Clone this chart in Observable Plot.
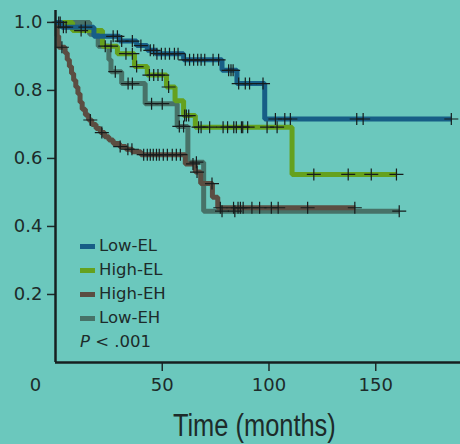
<!DOCTYPE html>
<html>
<head>
<meta charset="utf-8">
<script src="https://cdn.jsdelivr.net/npm/d3@7"></script>
<script src="https://cdn.jsdelivr.net/npm/@observablehq/plot@0.6"></script>
<style>
  html, body { margin: 0; padding: 0; background: #6BC8BD; }
  #wrap { position: relative; width: 460px; height: 444px; background: #6BC8BD; overflow: hidden; }
  #legend { position: absolute; left: 80px; top: 234px; font-family: "DejaVu Sans", sans-serif; font-size: 16.5px; color: #1d2b2a; line-height: 24px; }
  #legend .row { display: flex; align-items: center; height: 24px; }
  #legend .sw { display: inline-block; width: 15px; height: 5px; margin-right: 4px; }
  #title { position: absolute; left: 24px; width: 460px; top: 410px; text-align: center; font-family: "Liberation Sans", Arial, sans-serif; font-size: 31px; line-height: 31px; color: #1d2b2a; }
  #title span { display: inline-block; transform: scaleX(0.82); transform-origin: center; white-space: nowrap; }
</style>
</head>
<body>
<div id="wrap">
  <div id="chart"></div>
  <div id="legend"></div>
  <div id="title"><span>Time (months)</span></div>
</div>
<script>
// ---- Data ----
const groupNames = ["Low-EL", "High-EL", "High-EH", "Low-EH"];
const groupColors = ["#175E86", "#65A11E", "#5B4E42", "#477268"];

const timesLowEL = [0, 3, 18, 30, 38, 43, 47, 60, 78, 85, 98];
const survLowEL  = [1.0, 0.986, 0.959, 0.945, 0.932, 0.918, 0.908, 0.89, 0.859, 0.82, 0.716];
const endLowEL = 185.4;
const censorLowEL = [2.2, 3.7, 5, 14, 27, 29, 31, 36, 40, 44.4, 46, 47.5, 49.6, 51.4, 53.4, 55.7, 57.4, 60.8, 62.8, 64.7, 66.6, 68.2, 69.9, 73.8, 76.4, 81.1, 82.2, 83.2, 85.8, 88.9, 90.9, 97.2, 103, 107.4, 110, 141.1, 144.1, 185.4];

const timesHighEL = [0, 8, 22, 29, 37, 43, 52, 56, 60, 65.5, 110.8];
const survHighEL  = [1.0, 0.976, 0.93, 0.908, 0.87, 0.845, 0.81, 0.77, 0.726, 0.692, 0.553];
const endHighEL = 160;
const censorHighEL = [12, 26, 33, 36, 38, 44, 46, 48, 50, 53, 60.5, 61.3, 62.4, 67, 68.2, 72.2, 78.5, 80.6, 83.5, 84.7, 87.1, 87.7, 90, 99.1, 103.8, 121, 137.1, 147.9, 159.7];

const timesHighEH = [0, 0.8, 1.5, 4.5, 5.5, 6.5, 7.5, 8.5, 9.5, 10.5, 11.5, 12.5, 14, 15.5, 17, 19, 21, 23, 25, 27, 30, 33, 36, 40, 60.8, 65.5, 68, 73.5, 76];
const survHighEH  = [1.0, 0.96, 0.927, 0.91, 0.89, 0.87, 0.85, 0.83, 0.81, 0.79, 0.765, 0.745, 0.728, 0.713, 0.70, 0.688, 0.676, 0.664, 0.654, 0.644, 0.635, 0.627, 0.62, 0.611, 0.584, 0.56, 0.526, 0.486, 0.455];
const endHighEH = 140.5;
const censorHighEH = [3, 16.3, 21.7, 30.3, 33.9, 35.8, 41.3, 43, 44.4, 45.8, 47.3, 48.6, 50.5, 52.4, 54.7, 56.6, 58.5, 64.4, 66.3, 73.3, 77.2, 83.4, 85.5, 86.6, 87.9, 92, 95.6, 101.1, 104.3, 118.1, 140.2];

const timesLowEH = [0, 16, 20, 25, 26, 31, 42, 57, 62, 69.4];
const survLowEH  = [1.0, 0.965, 0.93, 0.89, 0.855, 0.82, 0.761, 0.694, 0.589, 0.445];
const endLowEH = 161;
const censorLowEH = [1.5, 23.3, 28, 34, 36, 45, 50, 58, 60, 66, 78, 84, 161];

const yTicks = [0.2, 0.4, 0.6, 0.8, 1.0];
const xTicks = [50, 100, 150];
const xMax = 189.7, yMax = 1.035;

// ---- Build tables ----
const series = [
  {name: groupNames[0], times: timesLowEL, surv: survLowEL, end: endLowEL, censor: censorLowEL},
  {name: groupNames[1], times: timesHighEL, surv: survHighEL, end: endHighEL, censor: censorHighEL},
  {name: groupNames[2], times: timesHighEH, surv: survHighEH, end: endHighEH, censor: censorHighEH},
  {name: groupNames[3], times: timesLowEH, surv: survLowEH, end: endLowEH, censor: censorLowEH}
];
function stepAt(s, t) {
  let v = s.surv[0];
  for (let i = 0; i < s.times.length; i++) if (s.times[i] <= t) v = s.surv[i];
  return v;
}
const drawOrder = [3, 2, 1, 0];
const lineData = [], censorData = [];
for (const i of drawOrder) {
  const s = series[i];
  s.times.forEach((t, j) => lineData.push({group: s.name, t, s: s.surv[j]}));
  lineData.push({group: s.name, t: s.end, s: s.surv[s.surv.length - 1]});
}
for (const i of drawOrder) {
  const s = series[i];
  s.censor.forEach(t => censorData.push({group: s.name, t, s: stepAt(s, t)}));
}

const censorSymbol = {
  draw(ctx) {
    ctx.moveTo(-7, 0); ctx.lineTo(7, 0);
    ctx.moveTo(0, -6); ctx.lineTo(0, 6);
  }
};

const chart = Plot.plot({
  width: 460,
  height: 444,
  marginLeft: 55,
  marginRight: 0,
  marginTop: 10,
  marginBottom: 82,
  style: {background: "transparent", color: "#1d2b2a", fontFamily: "DejaVu Sans, sans-serif"},
  x: {domain: [0, xMax]},
  y: {domain: [0, yMax]},
  color: {domain: groupNames, range: groupColors},
  marks: [
    Plot.axisY({ticks: yTicks, tickFormat: d3.format(".1f"), tickSize: 8, tickPadding: 5, fontSize: 18, strokeWidth: 1.5, label: null}),
    Plot.axisX({ticks: xTicks, tickSize: 9, tickPadding: 7, fontSize: 18, strokeWidth: 1.5, label: null}),
    Plot.text([{x: 0, y: 0, label: "0"}], {x: "x", y: "y", text: "label", dx: -20, dy: 16, lineAnchor: "top", fontSize: 18}),
    Plot.line(lineData, {x: "t", y: "s", z: "group", stroke: "group", strokeWidth: 5, curve: "step-after", strokeLinejoin: "miter", strokeLinecap: "butt"}),
    Plot.dot(censorData, {x: "t", y: "s", symbol: censorSymbol, stroke: "#161c1c", strokeWidth: 1.2, fill: "none"}),
    Plot.ruleX([0], {y1: 0, y2: yMax, stroke: "#162020", strokeWidth: 2.5}),
    Plot.ruleY([0], {x1: 0, x2: xMax, stroke: "#162020", strokeWidth: 2.5})
  ]
});
document.getElementById("chart").appendChild(chart);

// ---- Legend ----
const legend = document.getElementById("legend");
groupNames.forEach((n, i) => {
  const row = document.createElement("div");
  row.className = "row";
  const sw = document.createElement("span");
  sw.className = "sw";
  sw.style.background = groupColors[i];
  row.appendChild(sw);
  row.appendChild(document.createTextNode(n));
  legend.appendChild(row);
});
const prow = document.createElement("div");
prow.className = "row";
prow.innerHTML = "<i>P</i>&nbsp;&lt; .001";
legend.appendChild(prow);
</script>
</body>
</html>
